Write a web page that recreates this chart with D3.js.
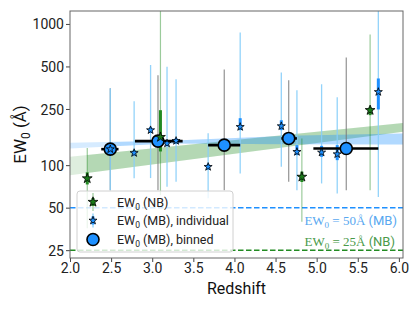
<!DOCTYPE html>
<html>
<head>
<meta charset="utf-8">
<script src="https://cdn.jsdelivr.net/npm/d3@7"></script>
<style>
  body { margin: 0; background: #fff; }
  text { font-family: Roboto, "DejaVu Sans", sans-serif; }
  .serif { font-family: "Liberation Serif", "DejaVu Serif", serif; }
</style>
</head>
<body>
<div id="chart"></div>
<script>
// narrow band (NB) measurements
var nbZ   = [2.21, 3.10, 4.82, 5.65];
var nbEW  = [80.5, 158, 82.6, 245];
var nbLo  = [35.8, 61.3, 39.7, 66.5];
var nbHi  = [132, 2000, 154.6, 842];
var nbLo1 = [73, 125, 76, 226];
var nbHi1 = [89, 245, 90, 259];

// medium band (MB) individual measurements
var mbZ   = [2.49, 2.78, 2.98, 3.18, 3.29, 3.68, 4.07, 4.57, 4.76, 5.06, 5.25, 5.75];
var mbEW  = [129.8, 122, 177, 142.5, 148.6, 97.3, 186.6, 188.9, 124.2, 123, 119.6, 330];
var mbLo  = [66.5, 80.9, 81, 70.2, 76.2, 58.4, 87.4, 97.3, 66.5, 74.2, 63.1, 59.6];
var mbHi  = [351, 284, 512, 498, 406, 168.5, 871, 453, 339, 374, 302, 1500];
var mbLo1 = [124, 117, 169, 136, 142, 93, 177, 177, 117.7, 114.5, 108.5, 248];
var mbHi1 = [136, 128, 186, 149, 155, 102, 215, 208, 138.6, 137, 138.6, 411];

// MB binned
var binZ   = [2.49, 3.07, 3.876, 4.66, 5.36];
var binEW  = [129.8, 148, 138.6, 154.6, 131.3];
var binZlo = [2.38, 2.79, 3.68, 4.57, 4.96];
var binZhi = [2.59, 3.37, 4.07, 4.76, 5.75];
var binLo  = [66.5, 66.5, 66.5, 76.2, 66.5];
var binHi  = [351, 433, 476, 400, 579];

// fit bands
var nbFitZ  = [2.0, 6.05];
var nbFitLo = [84.9, 172.2];
var nbFitHi = [114.5, 199];
var mbFitZ  = [2.0, 3.2, 4.67, 6.05];
var mbFitLo = [131.3, 142.4, 140.8, 140.2];
var mbFitHi = [143.8, 148.6, 161.8, 167.7];

var xTicks = [2.0, 2.5, 3.0, 3.5, 4.0, 4.5, 5.0, 5.5, 6.0];
var yTicks = [25, 50, 100, 250, 500, 1000];

var W = 415, H = 311;
var margin = {top: 11, right: 12, bottom: 53, left: 70},
    width = W - margin.left - margin.right,
    height = H - margin.top - margin.bottom;

var blue = "#1E90FF", green = "#228B22";

var svg = d3.select("#chart").append("svg")
    .attr("width", W).attr("height", H);

var x = d3.scaleLinear().domain([2.0, 6.05]).range([0, width]);
var y = d3.scaleLog().domain([22, 1235]).range([height, 0]);

var defs = svg.append("defs");
defs.append("clipPath").attr("id", "plotclip")
  .append("rect").attr("width", width).attr("height", height);
defs.append("clipPath").attr("id", "nbclip")
  .append("rect").attr("x", x(d3.min(nbZ))).attr("width", width).attr("height", height);
defs.append("clipPath").attr("id", "mbclip")
  .append("rect").attr("x", x(d3.min(mbZ))).attr("width", width).attr("height", height);

var g = svg.append("g")
    .attr("transform", "translate(" + margin.left + "," + margin.top + ")");
var plot = g.append("g").attr("clip-path", "url(#plotclip)");

// bands
function band(zs, lo, hi) {
    var pts = zs.map(function(z, i) { return {z: z, lo: lo[i], hi: hi[i]}; });
    return d3.area()
        .x(function(d) { return x(d.z); })
        .y0(function(d) { return y(d.lo); })
        .y1(function(d) { return y(d.hi); })(pts);
}
plot.append("path").attr("d", band(nbFitZ, nbFitLo, nbFitHi))
    .attr("fill", green).attr("fill-opacity", 0.15);
plot.append("g").attr("clip-path", "url(#nbclip)")
  .append("path").attr("d", band(nbFitZ, nbFitLo, nbFitHi))
    .attr("fill", green).attr("fill-opacity", 0.22);
plot.append("path").attr("d", band(mbFitZ, mbFitLo, mbFitHi))
    .attr("fill", blue).attr("fill-opacity", 0.18);
plot.append("g").attr("clip-path", "url(#mbclip)")
  .append("path").attr("d", band(mbFitZ, mbFitLo, mbFitHi))
    .attr("fill", blue).attr("fill-opacity", 0.2);

// detection limits
plot.append("line").attr("x1", 0).attr("x2", width)
    .attr("y1", y(50)).attr("y2", y(50))
    .attr("stroke", blue).attr("stroke-width", 1.5).attr("stroke-dasharray", "5.5,2.5");
plot.append("line").attr("x1", 0).attr("x2", width)
    .attr("y1", y(25)).attr("y2", y(25))
    .attr("stroke", green).attr("stroke-width", 1.5).attr("stroke-dasharray", "5.5,2.5");

// error bars
function vbars(zs, lo, hi, color, w, op) {
    plot.append("g").selectAll("line").data(zs).enter().append("line")
        .attr("x1", function(d) { return x(d); })
        .attr("x2", function(d) { return x(d); })
        .attr("y1", function(d, i) { return y(lo[i]); })
        .attr("y2", function(d, i) { return y(hi[i]); })
        .attr("stroke", color).attr("stroke-width", w).attr("stroke-opacity", op);
}
vbars(binZ, binLo, binHi, "#777", 1.2, 0.8);
vbars(mbZ, mbLo, mbHi, "#87CEFA", 1.3, 0.9);
vbars(mbZ, mbLo1, mbHi1, blue, 3, 1);
vbars(nbZ, nbLo, nbHi, green, 1.2, 0.45);
vbars(nbZ, nbLo1, nbHi1, green, 3, 1);

plot.append("g").selectAll("line").data(binZ).enter().append("line")
    .attr("x1", function(d, i) { return x(binZlo[i]); })
    .attr("x2", function(d, i) { return x(binZhi[i]); })
    .attr("y1", function(d, i) { return y(binEW[i]); })
    .attr("y2", function(d, i) { return y(binEW[i]); })
    .attr("stroke", "#000").attr("stroke-width", 2.6);

// markers
plot.append("g").selectAll("circle").data(binZ).enter().append("circle")
    .attr("cx", function(d) { return x(d); })
    .attr("cy", function(d, i) { return y(binEW[i]); })
    .attr("r", 6)
    .attr("fill", blue).attr("stroke", "#000").attr("stroke-width", 1.6);

var star = d3.symbol().type(d3.symbolStar);
plot.append("g").selectAll("path").data(mbZ).enter().append("path")
    .attr("transform", function(d, i) { return "translate(" + x(d) + "," + y(mbEW[i]) + ")"; })
    .attr("d", star.size(20)())
    .attr("fill", blue).attr("stroke", "#000").attr("stroke-width", 0.8);
plot.append("g").selectAll("path").data(nbZ).enter().append("path")
    .attr("transform", function(d, i) { return "translate(" + x(d) + "," + y(nbEW[i]) + ")"; })
    .attr("d", star.size(30)())
    .attr("fill", "#1a7a1a").attr("stroke", "#000").attr("stroke-width", 0.8);

// axes
var xAxis = g.append("g").attr("transform", "translate(0," + height + ")")
    .call(d3.axisBottom(x).tickValues(xTicks).tickFormat(d3.format(".1f")).tickSizeOuter(0).tickSize(4));
var yAxis = g.append("g")
    .call(d3.axisLeft(y).tickValues(yTicks).tickFormat(d3.format("d")).tickSizeOuter(0).tickSize(4));
[xAxis, yAxis].forEach(function(a) {
    a.select(".domain").remove();
    a.selectAll("line").attr("stroke", "#444");
    a.selectAll("text").attr("fill", "#222").style("font-size", "14px")
        .style("font-family", "Roboto, sans-serif");
});
xAxis.selectAll("text").attr("y", 5).attr("dy", "0.71em");
yAxis.selectAll("text").attr("dy", "0.36em").attr("x", -6);

g.append("rect").attr("width", width).attr("height", height)
    .attr("fill", "none").attr("stroke", "#666").attr("stroke-width", 1);

// limit labels
var lab50 = g.append("text").attr("x", width - 6).attr("y", y(50) + 17)
    .attr("text-anchor", "end").attr("fill", "#58A8F0").style("font-size", "13px");
lab50.append("tspan").attr("class", "serif").text("EW");
lab50.append("tspan").attr("class", "serif").attr("dy", 3).style("font-size", "9px").text("0");
lab50.append("tspan").attr("class", "serif").attr("dy", -3).text(" = 50Å");
lab50.append("tspan").text(" (MB)");

var lab25 = g.append("text").attr("x", width - 8).attr("y", y(25) - 4)
    .attr("text-anchor", "end").attr("fill", "#4A9A4A").style("font-size", "13px");
lab25.append("tspan").attr("class", "serif").text("EW");
lab25.append("tspan").attr("class", "serif").attr("dy", 3).style("font-size", "9px").text("0");
lab25.append("tspan").attr("class", "serif").attr("dy", -3).text(" = 25Å");
lab25.append("tspan").text(" (NB)");

// axis titles
g.append("text").attr("x", width / 2).attr("y", height + 36)
    .attr("text-anchor", "middle").attr("fill", "#111").style("font-size", "16px").text("Redshift");
var yl = g.append("text").attr("transform", "translate(-44," + (height / 2) + ") rotate(-90)")
    .attr("text-anchor", "middle").attr("fill", "#111").style("font-size", "17px");
yl.append("tspan").text("EW");
yl.append("tspan").attr("dy", 4).style("font-size", "12px").text("0");
yl.append("tspan").attr("dy", -4).text(" (Å)");

// legend
var leg = g.append("g").attr("transform", "translate(7,180)");
leg.append("rect").attr("width", 156).attr("height", 61).attr("rx", 3)
    .attr("fill", "#fff").attr("fill-opacity", 0.8).attr("stroke", "#d0d0d0");
var items = ["NB", "MB), individual", "MB), binned"];
var ly = [11, 29.5, 48.5];
items.forEach(function(t, i) {
    var mx = 16, my = ly[i];
    if (i == 0) {
        leg.append("line").attr("x1", mx).attr("x2", mx).attr("y1", my - 9).attr("y2", my + 9)
            .attr("stroke", green).attr("stroke-opacity", 0.45).attr("stroke-width", 1.2);
        leg.append("line").attr("x1", mx).attr("x2", mx).attr("y1", my - 4).attr("y2", my + 4)
            .attr("stroke", green).attr("stroke-width", 3);
        leg.append("path").attr("transform", "translate(" + mx + "," + my + ")")
            .attr("d", star.size(30)()).attr("fill", "#1a7a1a").attr("stroke", "#000").attr("stroke-width", 0.8);
    } else if (i == 1) {
        leg.append("line").attr("x1", mx).attr("x2", mx).attr("y1", my - 7).attr("y2", my + 7)
            .attr("stroke", "#87CEFA").attr("stroke-width", 1.3);
        leg.append("line").attr("x1", mx).attr("x2", mx).attr("y1", my - 4).attr("y2", my + 4)
            .attr("stroke", blue).attr("stroke-width", 3);
        leg.append("path").attr("transform", "translate(" + mx + "," + my + ")")
            .attr("d", star.size(20)()).attr("fill", blue).attr("stroke", "#000").attr("stroke-width", 0.8);
    } else {
        leg.append("circle").attr("cx", mx).attr("cy", my).attr("r", 6)
            .attr("fill", blue).attr("stroke", "#000").attr("stroke-width", 1.6);
    }
    var tx = leg.append("text").attr("x", 40).attr("y", my + 4.5)
        .attr("fill", "#222").style("font-size", "12.5px");
    tx.append("tspan").text("EW");
    tx.append("tspan").attr("dy", 3).style("font-size", "8.5px").text("0");
    tx.append("tspan").attr("dy", -3).text(" (" + (i == 0 ? "NB)" : t));
});
</script>
</body>
</html>
